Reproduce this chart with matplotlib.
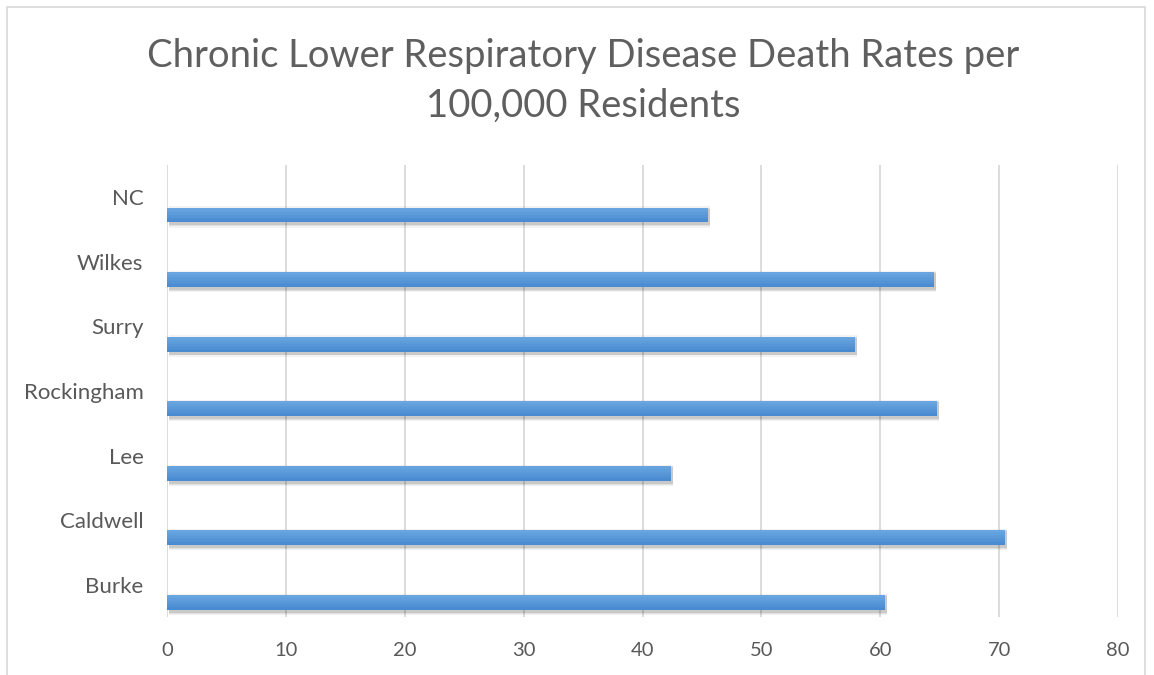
import numpy as np
import matplotlib.pyplot as plt
from matplotlib.patches import Rectangle
from matplotlib.colors import to_rgb

# Data (bottom to top)
counties = ['Burke', 'Caldwell', 'Lee', 'Rockingham', 'Surry', 'Wilkes', 'NC']
rates = [60.4, 70.5, 42.4, 64.8, 57.9, 64.5, 45.5]
xticks = [0, 10, 20, 30, 40, 50, 60, 70, 80]

plt.rcParams['font.family'] = ['Lato', 'DejaVu Sans']

fig = plt.figure(figsize=(11.54, 6.75), dpi=100)
W, H = 1154, 675
ax = fig.add_axes([167 / W, 1 - 617 / H, (1118 - 167) / W, (617 - 165) / H])

y = np.arange(len(counties))
off = -0.275   # bars sit below the category label
h = 0.23

# soft shadow under the bars
for k, a in zip([0.10, 0.06, 0.03], [0.05, 0.07, 0.10]):
    ax.barh(y + off - 0.03, rates, height=h + k, left=0.15, color='black', alpha=a, zorder=2, lw=0)

# vertical gradient: lighter on top, darker below
top, bot = np.array(to_rgb('#6ba7e2')), np.array(to_rgb('#4689cf'))
n = 10
for i in range(n):
    t = (i + 0.5) / n
    c = bot * (1 - t) + top * t
    ax.barh(y + off - h / 2 + h * i / n, rates, height=h / n * 1.05, align='edge',
            color=c, zorder=3, lw=0)

ax.set_xlim(0, 80)
ax.set_ylim(-0.5, len(counties) - 0.5)
ax.set_xticks(xticks)
ax.set_yticks(y)
ax.set_yticklabels(counties)
ax.grid(axis='x', color='#d9d9d9', lw=1.3, zorder=0)
for s in ax.spines.values():
    s.set_visible(False)
ax.tick_params(length=0, colors='#595959')
ax.tick_params(axis='x', pad=18, labelsize=14.5)
ax.tick_params(axis='y', pad=17, labelsize=16)

fig.text(583 / W, 1 - 81 / H, 'Chronic Lower Respiratory Disease Death Rates per\n100,000 Residents',
         ha='center', va='center', fontsize=27.5, color='#5f5f5f', linespacing=1.45)

fig.patches.append(Rectangle((7 / W, -0.01), (1145 - 7) / W, 1 - 7 / H + 0.01,
                             transform=fig.transFigure, fill=False, ec='#d9d9d9', lw=1.2))

fig.savefig('out.png', dpi=100)
